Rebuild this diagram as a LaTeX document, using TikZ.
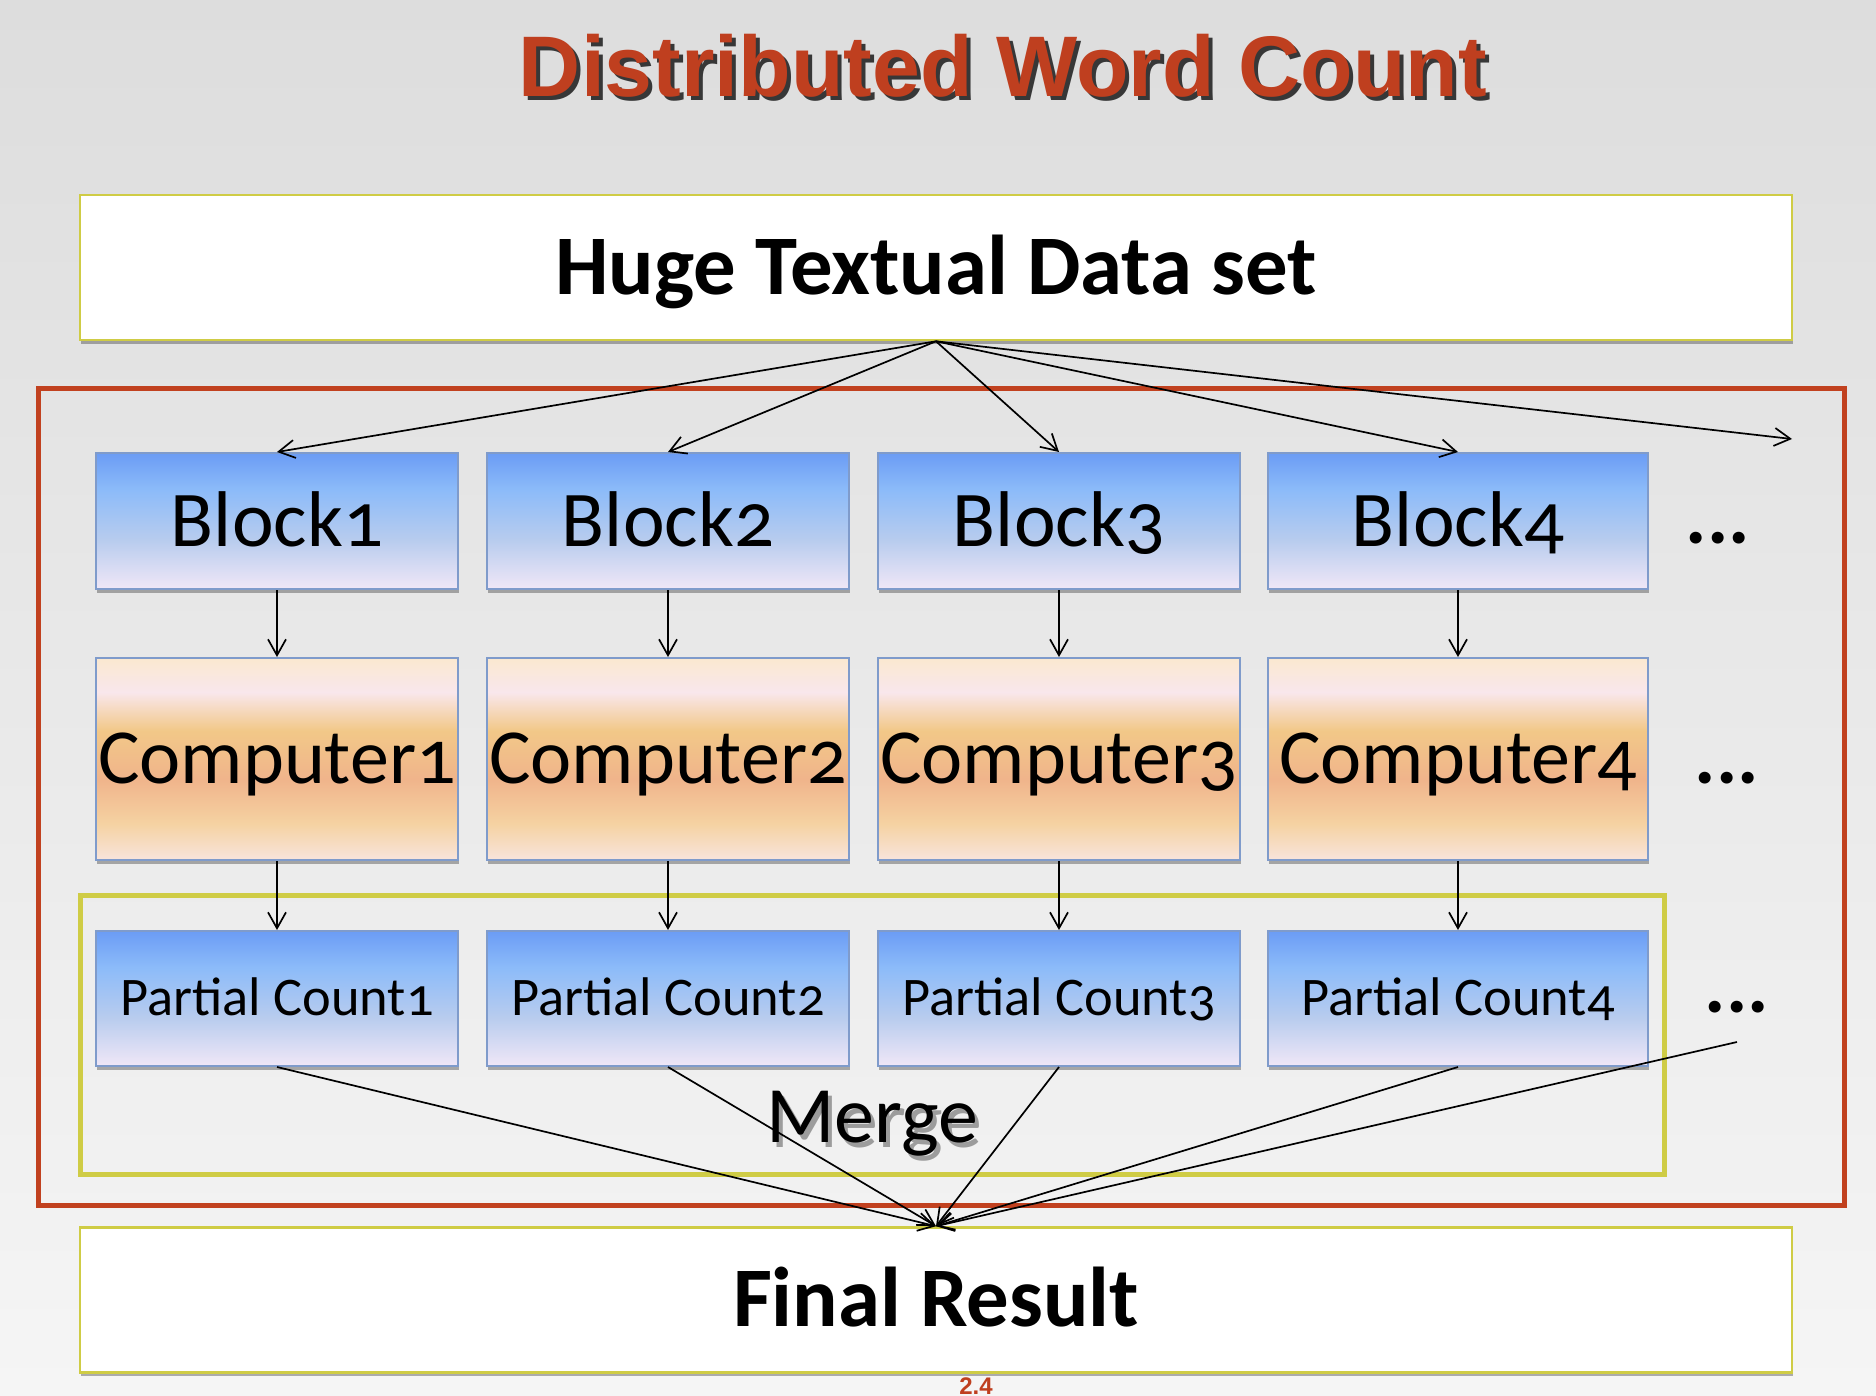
\documentclass[tikz,border=0pt]{standalone}
\usepackage{fontspec}
\setmainfont{Carlito}[Numbers=OldStyle]
\newfontfamily\titlefont{Liberation Sans}
\usetikzlibrary{arrows.meta,shadows}

\definecolor{bgtop}{HTML}{DDDDDD}
\definecolor{bgbot}{HTML}{F5F5F5}
\definecolor{boxred}{HTML}{C1411F}
\definecolor{titlered}{HTML}{BF3F1F}
\definecolor{yellowedge}{HTML}{CFCC45}
\definecolor{blockedge}{HTML}{7F9BCB}
\definecolor{blkA}{HTML}{6B9CF5}
\definecolor{blkB}{HTML}{8CBBF9}
\definecolor{blkC}{HTML}{B8CCEE}
\definecolor{blkD}{HTML}{F0E7F7}
\definecolor{cmpA}{HTML}{FAE8D0}
\definecolor{cmpB}{HTML}{F9E7EC}
\definecolor{cmpC}{HTML}{F2C888}
\definecolor{cmpD}{HTML}{F0B48B}
\definecolor{cmpE}{HTML}{F5D2A2}
\definecolor{cmpF}{HTML}{F8E4DC}

\pgfdeclareverticalshading{blockshade}{100bp}{color(0bp)=(blkD); color(25bp)=(blkD); color(43bp)=(blkC); color(61.5bp)=(blkB); color(75bp)=(blkA); color(100bp)=(blkA)}
\pgfdeclareverticalshading{compshade}{100bp}{color(0bp)=(cmpF); color(25bp)=(cmpF); color(34bp)=(cmpE); color(45bp)=(cmpD); color(57bp)=(cmpC); color(66.5bp)=(cmpB); color(75bp)=(cmpA); color(100bp)=(cmpA)}

\tikzset{
  boxshadow/.style={drop shadow={shadow xshift=0.6pt, shadow yshift=-1.8pt, opacity=0.3, fill=black}},
  titletext/.style={anchor=base, inner sep=0pt, font=\titlefont\bfseries\fontsize{43pt}{50pt}\selectfont, text=titlered},
  bigbox/.style={draw=yellowedge, line width=1.3pt, fill=white, inner sep=0pt, minimum width=856pt, minimum height=72.5pt, text height=26.7pt, text depth=0pt, font=\bfseries\fontsize{42.4pt}{50pt}\selectfont, boxshadow},
  blockbox/.style={shade, shading=blockshade, draw=blockedge, line width=1pt, inner sep=0pt, minimum height=68pt, text height=25pt, text depth=0pt, font=\fontsize{39.5pt}{48pt}\selectfont, boxshadow},
  compbox/.style={shade, shading=compshade, draw=blockedge, line width=1pt, inner sep=0pt, minimum height=101pt, text height=24.7pt, text depth=0pt, font=\fontsize{39pt}{48pt}\selectfont, boxshadow},
  partbox/.style={shade, shading=blockshade, draw=blockedge, line width=1pt, inner sep=0pt, minimum height=67.5pt, text height=17.2pt, text depth=0pt, font=\fontsize{27.2pt}{33pt}\selectfont, boxshadow},
  dotstext/.style={anchor=base, inner sep=0pt, font=\bfseries\fontsize{40pt}{48pt}\selectfont},
  conn/.style={draw=black, line width=0.85pt, -{Straight Barb[length=8pt,width=9pt]}},
}

\begin{document}
\begin{tikzpicture}[x=0.5pt,y=-0.5pt]
\useasboundingbox (0,0) rectangle (1876,1396);
\shade[top color=bgtop, bottom color=bgbot] (0,0) rectangle (1876,1396);

% title
\node[titletext, text=black, opacity=0.75] (titleshadow) at (1007,101) {Distributed Word Count};
\node[titletext] (title) at (1003,97) {Distributed Word Count};

% outer frames
\node[draw=boxred, line width=2.5pt, inner sep=0pt, minimum width=903pt, minimum height=408pt] (outer) at (941,797) {};
\node[draw=yellowedge, line width=2.5pt, inner sep=0pt, minimum width=792pt, minimum height=139.5pt] (mergebox) at (872,1034.5) {};

% big boxes
\node[bigbox] (huge) at (936,267.5) {Huge Textual Data set};
\node[bigbox] (final) at (936,1300) {Final Result};

% blocks
\node[blockbox, minimum width=181pt] (b1) at (277,521) {Block1};
\node[blockbox, minimum width=181pt] (b2) at (668,521) {Block2};
\node[blockbox, minimum width=181pt] (b3) at (1059,521) {Block3};
\node[blockbox, minimum width=190pt] (b4) at (1458,521) {Block4};

% computers
\node[compbox, minimum width=181pt] (c1) at (277,759) {Computer1};
\node[compbox, minimum width=181pt] (c2) at (668,759) {Computer2};
\node[compbox, minimum width=181pt] (c3) at (1059,759) {Computer3};
\node[compbox, minimum width=190pt] (c4) at (1458,759) {Computer4};

% partial counts
\node[partbox, minimum width=181pt] (p1) at (277,998.5) {Partial Count1};
\node[partbox, minimum width=181pt] (p2) at (668,998.5) {Partial Count2};
\node[partbox, minimum width=181pt] (p3) at (1059,998.5) {Partial Count3};
\node[partbox, minimum width=190pt] (p4) at (1458,998.5) {Partial Count4};

% dots
\node[dotstext] (d1) at (1718,543) {...};
\node[dotstext] (d2) at (1727,783) {...};
\node[dotstext] (d3) at (1737,1012) {...};

% merge label
\node[inner sep=0pt, text height=25.3pt, text depth=0pt, font=\fontsize{40pt}{48pt}\selectfont, text=black, opacity=0.35] (mergeshadow) at (876,1122) {Merge};
\node[inner sep=0pt, text height=25.3pt, text depth=0pt, font=\fontsize{40pt}{48pt}\selectfont] (merge) at (872,1117.5) {Merge};

% page number
\node[anchor=base, inner sep=0pt, font=\titlefont\bfseries\fontsize{12pt}{14pt}\selectfont, text=titlered] (pageno) at (976,1394) {2.4};

% connectors
\coordinate (hugeend) at (1792,439);
\coordinate (dotsstart) at (1737,1042);
\draw[conn] (huge.south) -- (b1.north);
\draw[conn] (huge.south) -- (b2.north);
\draw[conn] (huge.south) -- (b3.north);
\draw[conn] (huge.south) -- (b4.north);
\draw[conn] (huge.south) -- (hugeend);

\foreach \i in {1,2,3,4}{
  \draw[conn] (b\i.south) -- (c\i.north);
  \draw[conn] (c\i.south) -- (p\i.north);
  \draw[conn] (p\i.south) -- (final.north);
}
\draw[conn] (dotsstart) -- (final.north);
\end{tikzpicture}
\end{document}
